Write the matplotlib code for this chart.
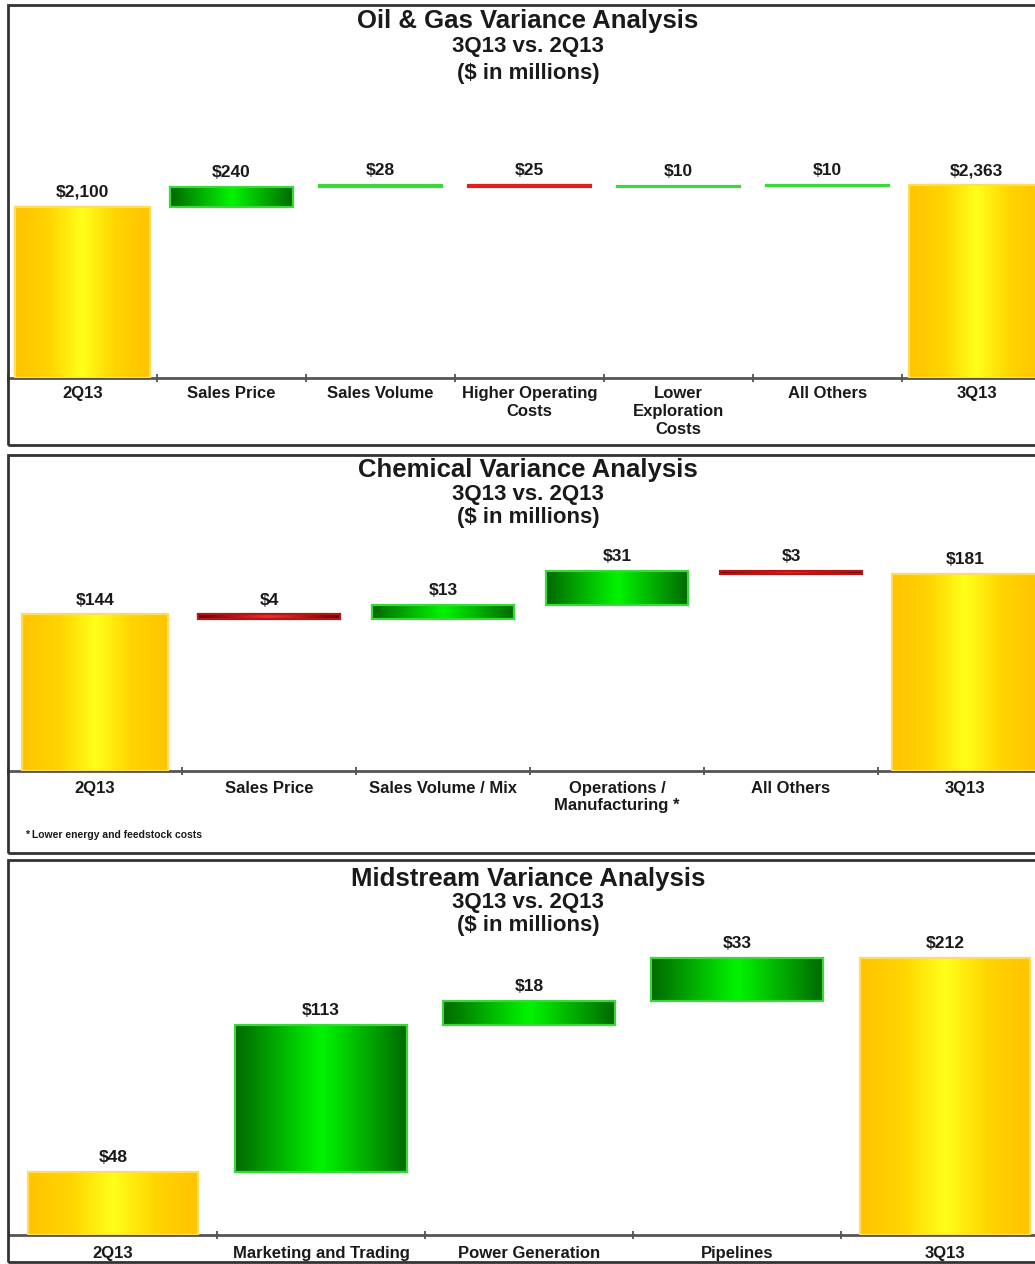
import numpy as np
import matplotlib.pyplot as plt
from matplotlib.colors import LinearSegmentedColormap
from matplotlib.patches import Rectangle

plt.rcParams['font.family'] = ['Liberation Sans', 'DejaVu Sans']
plt.rcParams['font.weight'] = 'bold'

FIG_W, FIG_H = 1035, 1264

# --- data -------------------------------------------------------------
subtitle = "3Q13 vs. 2Q13\n($ in millions)"

og_title = "Oil & Gas Variance Analysis"
og_categories = ["2Q13", "Sales Price", "Sales Volume", "Higher Operating\nCosts",
                 "Lower\nExploration\nCosts", "All Others", "3Q13"]
og_values = [2100, 240, 28, -25, 10, 10, 2363]

chem_title = "Chemical Variance Analysis"
chem_categories = ["2Q13", "Sales Price", "Sales Volume / Mix", "Operations /\nManufacturing *",
                   "All Others", "3Q13"]
chem_values = [144, -4, 13, 31, -3, 181]
chem_note = "* Lower energy and feedstock costs"

mid_title = "Midstream Variance Analysis"
mid_categories = ["2Q13", "Marketing and Trading", "Power Generation", "Pipelines", "3Q13"]
mid_values = [48, 113, 18, 33, 212]

# gradient colour maps: centre colour -> edge colour
yellow_cmap = LinearSegmentedColormap.from_list("yel", ["#ffff1a", "#ffd400", "#ffc400"])
green_cmap = LinearSegmentedColormap.from_list("grn", ["#00f500", "#00b000", "#006a00"])
red_cmap = LinearSegmentedColormap.from_list("red", ["#ff2a2a", "#c01010", "#6a0000"])


def px_rect(left, top, width, bottom):
    return [left / FIG_W, 1 - bottom / FIG_H, width / FIG_W, (bottom - top) / FIG_H]


def money(v):
    return "${:,}".format(abs(v))


def waterfall(ax, categories, values, ymax, total_width, delta_width, thin_red=None, pad=6):
    grad = np.abs(np.linspace(-1, 1, 64))[None, :]
    running = 0
    x = np.arange(len(categories))
    for i, v in enumerate(values):
        total = i == 0 or i == len(values) - 1
        if total:
            bottom, height, w = 0, v, total_width
            cmap, edge = yellow_cmap, "#ffdc5a"
            running = v
        else:
            bottom = running if v > 0 else running + v
            height = abs(v)
            w = delta_width
            running += v
            if v > 0:
                cmap, edge = green_cmap, "#3ad83a"
            else:
                cmap, edge = red_cmap, thin_red or "#e02020"
        bar = ax.bar(x[i], height, bottom=bottom, width=w, color="none",
                     edgecolor=edge, linewidth=1.6, zorder=3)[0]
        im = ax.imshow(grad, extent=[x[i] - w / 2, x[i] + w / 2, bottom, bottom + height],
                       aspect="auto", cmap=cmap, vmin=0, vmax=1, zorder=2, interpolation="bilinear")
        im.set_clip_path(bar)
        ax.annotate(money(v), (x[i], bottom + height), xytext=(0, 5), textcoords="offset points",
                    ha="center", va="bottom", fontsize=12.5, fontweight="bold", color="#1a1a1a")

    ax.set_xlim(-0.5, len(categories) - 0.5)
    ax.set_ylim(0, ymax)
    ax.set_xticks(x)
    ax.set_xticklabels(categories, fontsize=12, fontweight="bold", color="#1a1a1a", linespacing=1.22)
    ax.set_xticks(np.arange(len(categories) + 1) - 0.5, minor=True)
    ax.tick_params(axis="x", which="major", length=0, pad=pad)
    ax.tick_params(axis="x", which="minor", length=6, direction="inout", width=1.2, color="#444444")
    ax.set_yticks([])
    for side in ["left", "right", "top"]:
        ax.spines[side].set_visible(False)
    ax.spines["bottom"].set_color("#555555")
    ax.spines["bottom"].set_linewidth(2)
    ax.patch.set_alpha(0)


def panel_frame(fig, top, bottom, title, title_y, sub_y, sub_spacing):
    fig.patches.append(Rectangle((8 / FIG_W, 1 - bottom / FIG_H), 1.1, (bottom - top) / FIG_H,
                                 transform=fig.transFigure, fill=False, edgecolor="#333333",
                                 linewidth=2))
    fig.text(528 / FIG_W, 1 - title_y / FIG_H, title, ha="center", va="center",
             fontsize=18.5, fontweight="bold", color="#1a1a1a")
    fig.text(528 / FIG_W, 1 - sub_y / FIG_H, subtitle, ha="center", va="center",
             fontsize=16, fontweight="bold", color="#1a1a1a", linespacing=sub_spacing)


def main():
    fig = plt.figure(figsize=(FIG_W / 100, FIG_H / 100), dpi=100)

    # Oil & Gas
    panel_frame(fig, 5, 445, og_title, 21, 60, 1.34)
    ax1 = fig.add_axes(px_rect(8, 150, 1043, 378))
    waterfall(ax1, og_categories, og_values, 228 / 0.0816, 0.9, 0.83)

    # Chemical
    panel_frame(fig, 455, 853, chem_title, 470, 506, 1.13)
    ax2 = fig.add_axes(px_rect(8, 545, 1044, 771))
    waterfall(ax2, chem_categories, chem_values, 226 / 1.087, 0.84, 0.82, thin_red="#b01818", pad=7)
    fig.text(25 / FIG_W, 1 - 835 / FIG_H, chem_note, ha="left", va="center",
             fontsize=7.5, fontweight="bold", color="#1a1a1a")

    # Midstream
    panel_frame(fig, 860, 1262, mid_title, 879, 914, 1.13)
    ax3 = fig.add_axes(px_rect(9, 940, 1040, 1235))
    waterfall(ax3, mid_categories, mid_values, 295 / 1.305, 0.82, 0.83, pad=8)

    fig.savefig("out.png", dpi=100)


if __name__ == "__main__":
    main()
